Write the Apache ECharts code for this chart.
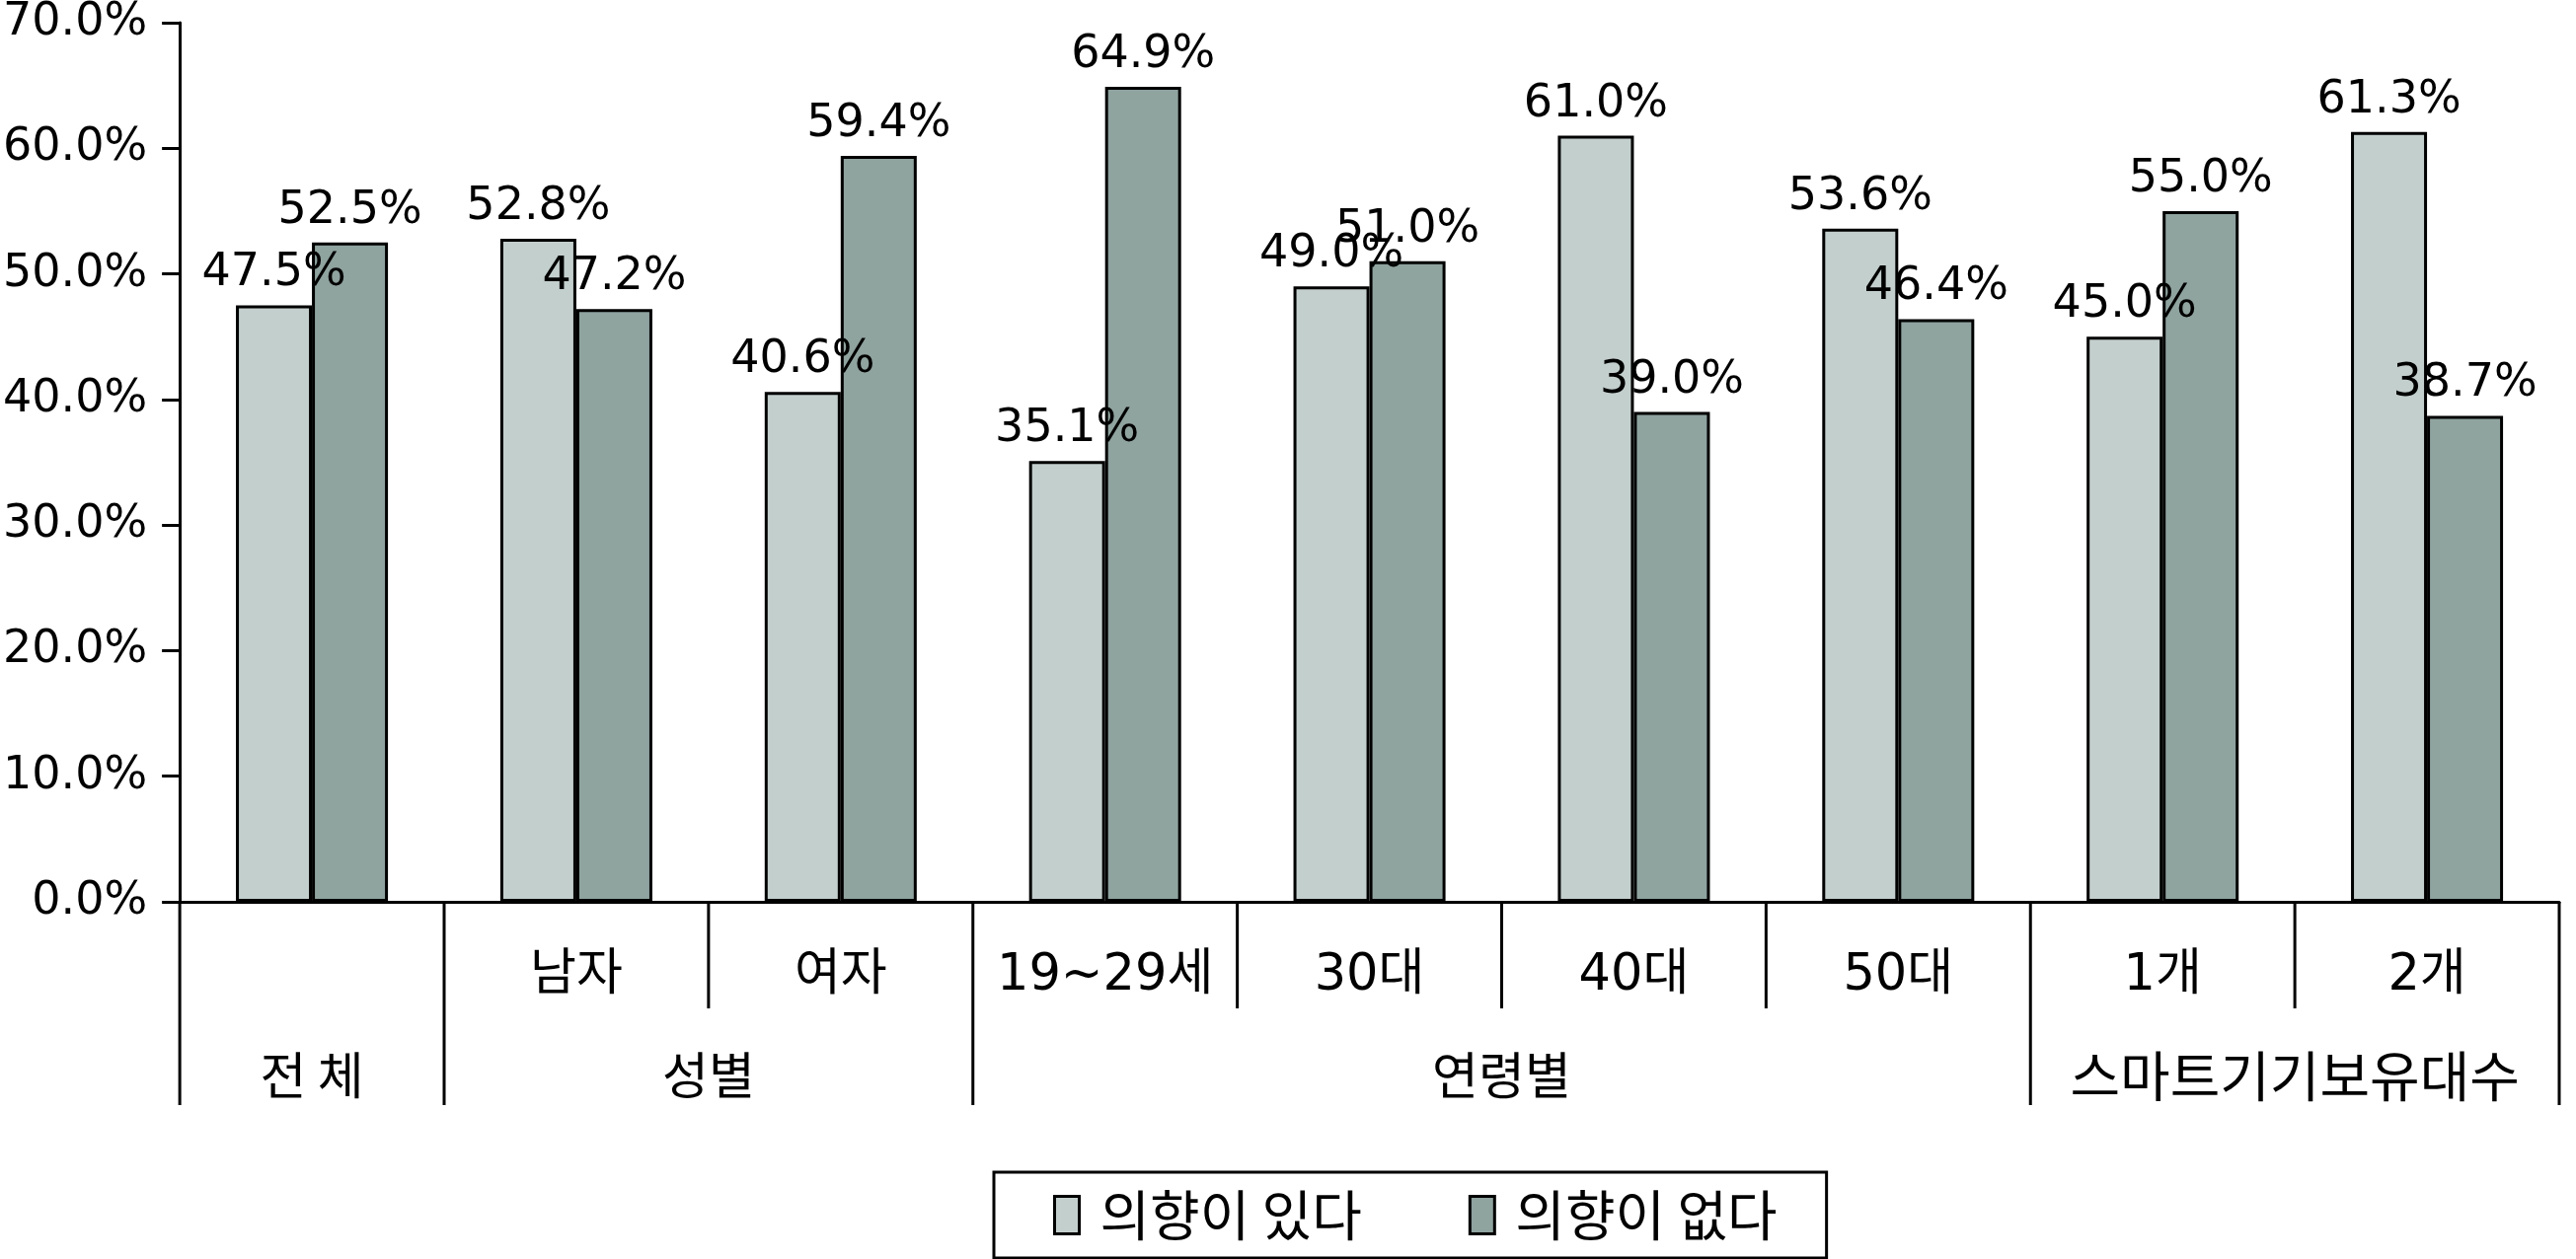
<!DOCTYPE html>
<html>
<head>
<meta charset="utf-8">
<script src="https://cdn.jsdelivr.net/npm/echarts@6/dist/echarts.min.js"></script>
<style>
html,body{margin:0;padding:0;background:#fff;}
#chart{width:2610px;height:1276px;}
</style>
</head>
<body>
<div id="chart"></div>
<script>
const categories = ['전체', '남자', '여자', '19~29세', '30대', '40대', '50대', '1개', '2개'];
const subLabels = ['', '남자', '여자', '19~29세', '30대', '40대', '50대', '1개', '2개'];
const groupNames = ['전 체', '성별', '연령별', '스마트기기보유대수'];
const groupStarts = [0, 1, 3, 7];
const groupEnds = [1, 3, 7, 9];
const seriesNames = ['의향이 있다', '의향이 없다'];
const yesValues = [47.5, 52.8, 40.6, 35.1, 49.0, 61.0, 53.6, 45.0, 61.3];
const noValues = [52.5, 47.2, 59.4, 64.9, 51.0, 39.0, 46.4, 55.0, 38.7];
const yMin = 0, yMax = 70, yStep = 10;

const NUMFONT = '"DejaVu Sans", "Noto Sans CJK KR", sans-serif';
const KFONT = '"Noto Sans CJK KR", "DejaVu Sans", sans-serif';
const MIXFONT = '"DejaVu Sans", "Noto Sans CJK KR", sans-serif';
const lightColor = '#c3cfcd';
const darkColor = '#8fa39f';

const chart = echarts.init(document.getElementById('chart'), null, {renderer: 'canvas'});

function labelStyle() {
  return {
    show: true, position: 'top', distance: 9, color: '#000',
    fontFamily: NUMFONT, fontSize: 46,
    formatter: p => p.value.toFixed(1) + '%'
  };
}

const option = {
  backgroundColor: '#fff',
  animation: false,
  grid: {left: 181, right: 17, top: 22, bottom: 362, containLabel: false},
  legend: {
    left: 1007, top: 1188,
    data: seriesNames,
    orient: 'horizontal',
    itemWidth: 25, itemHeight: 38, itemGap: 108,
    padding: [16, 50, 16, 60],
    borderColor: '#000', borderWidth: 3,
    textStyle: {fontFamily: KFONT, fontSize: 55, color: '#000', padding: [0, 0, 0, 16]},
    icon: 'rect',
    itemStyle: {borderColor: '#000', borderWidth: 3}
  },
  xAxis: {
    type: 'category',
    data: categories,
    boundaryGap: true,
    axisLine: {show: true, lineStyle: {color: '#000', width: 3}},
    axisTick: {show: false},
    axisLabel: {
      show: true, interval: 0, margin: 50, color: '#000',
      fontFamily: MIXFONT, fontSize: 51,
      formatter: (v, i) => subLabels[i]
    },
    splitLine: {show: false}
  },
  yAxis: {
    type: 'value', min: yMin, max: yMax, interval: yStep,
    axisLine: {show: true, lineStyle: {color: '#000', width: 3}},
    axisTick: {show: true, inside: false, length: 18, lineStyle: {color: '#000', width: 3}},
    axisLabel: {
      margin: 33, color: '#000', fontFamily: NUMFONT, fontSize: 46,
      formatter: v => v.toFixed(1) + '%'
    },
    splitLine: {show: false}
  },
  series: [
    {
      name: seriesNames[0], type: 'bar', data: yesValues,
      barGap: '0%', barCategoryGap: '42.5%',
      itemStyle: {color: lightColor, borderColor: '#000', borderWidth: 3},
      label: labelStyle()
    },
    {
      name: seriesNames[1], type: 'bar', data: noValues,
      barGap: '0%', barCategoryGap: '42.5%',
      itemStyle: {color: darkColor, borderColor: '#000', borderWidth: 3},
      label: labelStyle()
    }
  ]
};

chart.setOption(option);

function drawDividers() {
  const c0 = chart.convertToPixel({xAxisIndex: 0}, categories[0]);
  const c1 = chart.convertToPixel({xAxisIndex: 0}, categories[1]);
  const w = c1 - c0;
  const y0 = chart.convertToPixel({yAxisIndex: 0}, 0);
  const boundary = k => c0 - w / 2 + k * w;
  const shortLen = 108, longLen = 206;
  const longSet = new Set();
  groupStarts.forEach(s => longSet.add(s));
  groupEnds.forEach(e => longSet.add(e));
  const graphics = [];
  for (let k = 0; k <= categories.length; k++) {
    const x = boundary(k);
    const len = longSet.has(k) ? longLen : shortLen;
    graphics.push({
      type: 'line', silent: true, z: 10,
      shape: {x1: x, y1: y0, x2: x, y2: y0 + len},
      style: {stroke: '#000', lineWidth: 3}
    });
  }
  groupNames.forEach((name, i) => {
    const cx = (boundary(groupStarts[i]) + boundary(groupEnds[i])) / 2;
    graphics.push({
      type: 'text', silent: true, z: 10,
      x: cx, y: y0 + 176,
      style: {
        text: name, fill: '#000', font: (i === 3 ? 55 : 51) + 'px ' + KFONT,
        align: 'center', verticalAlign: 'middle'
      }
    });
  });
  chart.setOption({graphic: graphics});
}
drawDividers();
</script>
</body>
</html>
